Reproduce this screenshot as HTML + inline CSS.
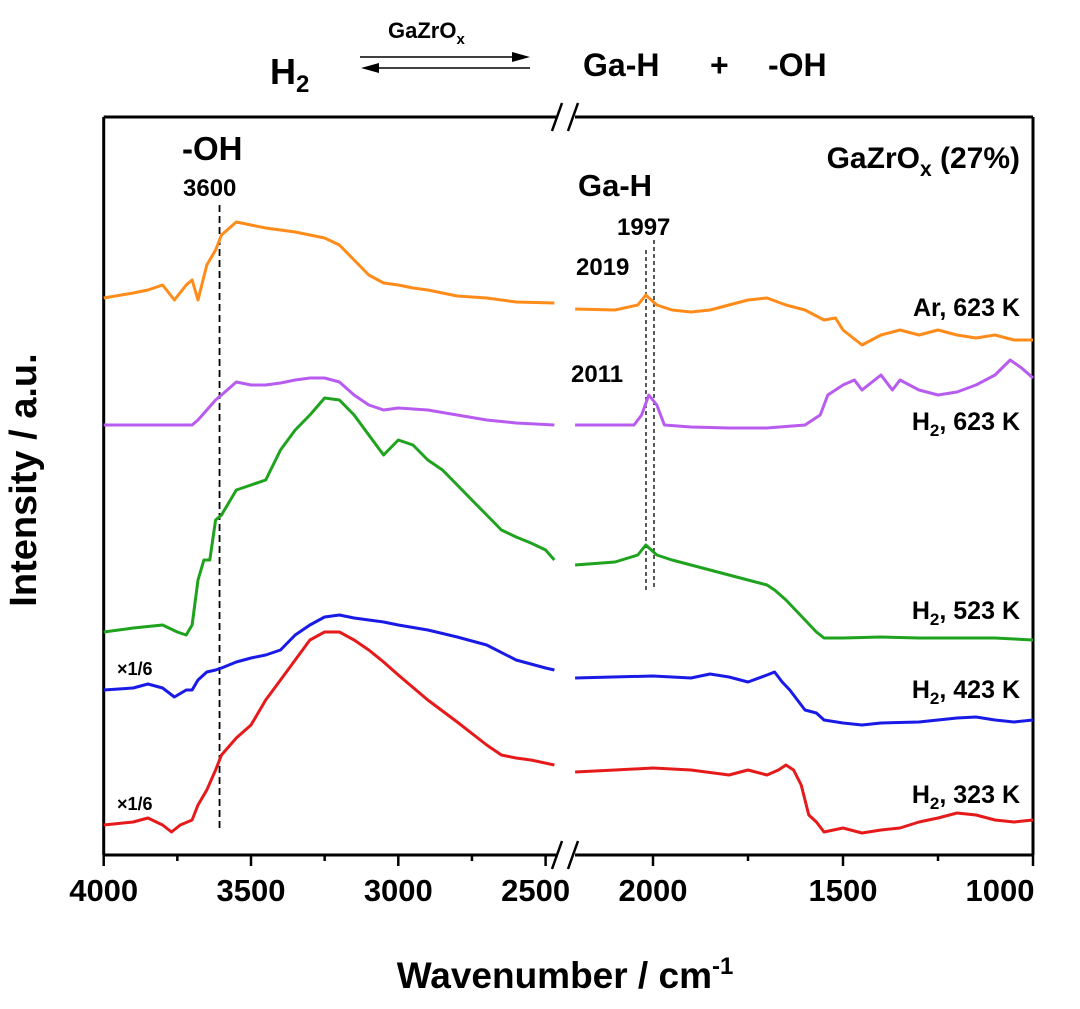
<!DOCTYPE html>
<html><head><meta charset="utf-8">
<style>
body{margin:0;background:#fff;}
svg text{font-family:"Liberation Sans",sans-serif;font-weight:bold;fill:#000;}
</style></head>
<body>
<svg id="chart" width="1080" height="1004" viewBox="0 0 1080 1004" xmlns="http://www.w3.org/2000/svg">
<g>
<text x="270" y="84" font-size="36">H<tspan font-size="24" dy="8">2</tspan></text>
<text x="388" y="38" font-size="22">GaZrO<tspan font-size="15" dy="6">x</tspan></text>
<line x1="360" y1="57" x2="520" y2="57" stroke="#000" stroke-width="1.5"/>
<polygon points="530,57 512,52 512,62" fill="#000"/>
<line x1="372" y1="68" x2="530" y2="68" stroke="#000" stroke-width="1.5"/>
<polygon points="361,68 379,63 379,73" fill="#000"/>
<text x="583" y="76" font-size="32">Ga-H</text>
<text x="710" y="76" font-size="32">+</text>
<text x="768" y="76" font-size="32">-OH</text>
</g>
<g id="frame"></g>
<g id="series"></g>
<g>
<text x="182" y="160" font-size="33">-OH</text>
<text x="183" y="196" font-size="24">3600</text>
<text x="578" y="196" font-size="31">Ga-H</text>
<text x="617" y="235" font-size="24">1997</text>
<text x="576" y="275" font-size="24">2019</text>
<text x="571" y="382" font-size="24">2011</text>
<text x="1020" y="168" font-size="30" text-anchor="end">GaZrO<tspan font-size="21" dy="8">x</tspan><tspan dy="-8"> (27%)</tspan></text>
<text x="1020" y="316" font-size="25" text-anchor="end">Ar, 623 K</text>
<text x="1020" y="430" font-size="25" text-anchor="end">H<tspan font-size="17" dy="6">2</tspan><tspan dy="-6">, 623 K</tspan></text>
<text x="1020" y="619" font-size="25" text-anchor="end">H<tspan font-size="17" dy="6">2</tspan><tspan dy="-6">, 523 K</tspan></text>
<text x="1020" y="698" font-size="25" text-anchor="end">H<tspan font-size="17" dy="6">2</tspan><tspan dy="-6">, 423 K</tspan></text>
<text x="1020" y="803" font-size="25" text-anchor="end">H<tspan font-size="17" dy="6">2</tspan><tspan dy="-6">, 323 K</tspan></text>
<text x="117" y="675" font-size="18">×1/6</text>
<text x="117" y="810" font-size="18">×1/6</text>
<text x="36" y="480" font-size="38" text-anchor="middle" transform="rotate(-90 36 480)">Intensity / a.u.</text>
<text x="565" y="988" font-size="37" text-anchor="middle">Wavenumber / cm<tspan font-size="24" dy="-14">-1</tspan></text>
</g>
</svg>
<script>
// data (intensity in arbitrary units)
const ticksLeft=[4000,3500,3000,2500];
const ticksRight=[2000,1500,1000];
const arL_x=[4000,3900,3850,3800,3760,3720,3700,3680,3650,3620,3600,3550,3500,3450,3400,3350,3300,3250,3200,3150,3100,3050,3000,2950,2900,2850,2800,2700,2600,2470];
const arL_y=[557,562,565,570,555,570,575,555,590,605,620,633,630,627,625,623,620,617,610,595,580,572,570,567,565,562,559,557,553,552];
const arR_x=[2205,2100,2040,2019,1990,1950,1900,1850,1800,1750,1700,1650,1600,1550,1520,1500,1450,1400,1350,1300,1250,1200,1150,1100,1050,1000];
const arR_y=[546,545,550,560,550,545,543,545,550,555,557,550,545,535,537,525,510,520,525,520,525,520,517,520,515,515];
const h623L_x=[4000,3700,3680,3650,3620,3600,3550,3500,3450,3400,3350,3300,3250,3200,3150,3100,3050,3000,2900,2800,2700,2600,2470];
const h623L_y=[430,430,435,445,455,460,473,470,470,472,475,477,477,473,460,450,445,447,445,440,435,432,430];
const h623R_x=[2205,2050,2030,2011,1990,1970,1900,1800,1700,1600,1560,1540,1500,1470,1450,1400,1370,1350,1300,1250,1200,1150,1100,1060,1030,1000];
const h623R_y=[430,430,440,460,450,430,428,427,427,430,440,460,470,475,465,480,465,475,465,460,463,470,480,495,487,477];
const h523L_x=[4000,3900,3800,3750,3720,3700,3680,3660,3640,3620,3600,3550,3500,3450,3400,3350,3300,3250,3200,3150,3100,3050,3000,2950,2900,2850,2800,2750,2700,2650,2600,2550,2500,2470];
const h523L_y=[223,227,230,223,220,230,275,295,295,335,340,365,370,375,405,425,440,457,455,440,420,400,415,410,395,385,370,355,340,325,318,312,305,295];
const h523R_x=[2205,2100,2040,2019,1990,1950,1900,1850,1800,1750,1700,1680,1650,1620,1600,1570,1550,1500,1400,1300,1200,1100,1000];
const h523R_y=[290,293,300,310,300,295,290,285,280,275,270,265,255,243,235,223,217,217,218,217,217,217,215];
const h423L_x=[4000,3900,3850,3800,3760,3720,3700,3680,3650,3620,3600,3550,3500,3450,3400,3350,3300,3250,3200,3150,3100,3050,3000,2900,2800,2700,2600,2500,2470];
const h423L_y=[165,167,171,167,158,165,165,175,183,185,187,193,197,200,205,220,230,238,240,237,235,233,230,225,218,210,195,187,185];
const h423R_x=[2205,2000,1900,1850,1800,1750,1700,1680,1660,1640,1620,1600,1570,1550,1500,1450,1400,1300,1250,1200,1150,1100,1050,1000];
const h423R_y=[177,179,177,181,178,173,180,183,173,165,155,145,142,135,132,130,132,133,135,137,138,135,133,135];
const h323L_x=[4000,3900,3850,3800,3770,3740,3700,3680,3650,3620,3600,3550,3500,3450,3400,3350,3300,3250,3200,3150,3100,3050,3000,2900,2800,2700,2650,2600,2550,2470];
const h323L_y=[30,33,37,30,23,30,35,50,65,85,100,117,130,155,175,195,215,223,223,215,205,193,180,155,133,110,100,97,95,90];
const h323R_x=[2205,2100,2000,1900,1800,1750,1700,1670,1650,1630,1610,1590,1570,1550,1500,1450,1400,1350,1300,1250,1200,1150,1100,1050,1000];
const h323R_y=[83,85,87,85,80,85,80,85,90,85,70,40,33,23,27,22,25,27,33,37,42,40,35,33,35];

const svg=document.getElementById('chart');
const NS='http://www.w3.org/2000/svg';
const X0=103.7,XL=557,XR=575,X1=1033,Y0=117,Yb=855;
function xL(v){return X0+(4000-v)*0.2946;}
function xR(v){return 653+(2000-v)*0.38;}
function yS(v){return Yb-v;}
function mk(tag,attrs,parent){const e=document.createElementNS(NS,tag);for(const k in attrs)e.setAttribute(k,attrs[k]);parent.appendChild(e);return e;}
const frame=document.getElementById('frame');
const st={stroke:'#000','stroke-width':3,fill:'none'};
let e;
e=mk('line',Object.assign({x1:X0,y1:Y0,x2:X0,y2:Yb},st),frame);


e=mk('line',Object.assign({x1:X1,y1:Y0,x2:X1,y2:Yb},st),frame);


e=mk('path',Object.assign({d:`M${X0} ${Yb}H${XL}M${XR} ${Yb}H${X1}M${X0} ${Y0}H${XL}M${XR} ${Y0}H${X1}`},st),frame);


[Y0,Yb].forEach(y=>{
 e=mk('path',{d:`M${XL-5} ${y+14}L${XL+5} ${y-14}M${XR-7} ${y+14}L${XR+3} ${y-14}`,stroke:'#000','stroke-width':2.5,fill:'none'},frame);
 
 
});
const minorL=[3750,3250,2750], minorR=[1750,1250];
ticksLeft.forEach(v=>{const x=xL(v);
 e=mk('line',{x1:x,y1:Yb,x2:x,y2:Yb+11,stroke:'#000','stroke-width':2.5},frame);
 
 
 e=mk('text',{x:v===2500?x-10:x,y:Yb+46,'font-size':31,'text-anchor':'middle'},frame);e.textContent=v;
 
 });
ticksRight.forEach(v=>{const x=xR(v);
 e=mk('line',{x1:x,y1:Yb,x2:x,y2:Yb+11,stroke:'#000','stroke-width':2.5},frame);
 
 
 e=mk('text',{x:v===1000?x-33:x,y:Yb+46,'font-size':31,'text-anchor':'middle'},frame);e.textContent=v;
 
 });
minorL.forEach(v=>{e=mk('line',{x1:xL(v),y1:Yb,x2:xL(v),y2:Yb+6,stroke:'#000','stroke-width':2.5},frame);
 
 });
minorR.forEach(v=>{e=mk('line',{x1:xR(v),y1:Yb,x2:xR(v),y2:Yb+6,stroke:'#000','stroke-width':2.5},frame);
 
 });
// reference lines
e=mk('line',{x1:xL(3600)-2,y1:205,x2:xL(3600)-2,y2:830,stroke:'#000','stroke-width':1.8,'stroke-dasharray':'7,4'},frame);


e=mk('line',{x1:646,y1:250,x2:646,y2:590,stroke:'#000','stroke-width':1.3,'stroke-dasharray':'4,3'},frame);


e=mk('line',{x1:654,y1:240,x2:654,y2:590,stroke:'#000','stroke-width':1.3,'stroke-dasharray':'4,3'},frame);


const sg=document.getElementById('series');
function line(xs,ys,fx,color,name){
 const d=xs.map((v,i)=>(i?'L':'M')+fx(v).toFixed(1)+' '+yS(ys[i]).toFixed(1)).join('');
 const p=mk('path',{d:d,stroke:color,'stroke-width':3,fill:'none','stroke-linejoin':'round'},sg);
 
 
}
line(arL_x,arL_y,xL,'#ff8c1a','series-ar-623-left');
line(arR_x,arR_y,xR,'#ff8c1a','series-ar-623-right');
line(h623L_x,h623L_y,xL,'#b85cf0','series-h2-623-left');
line(h623R_x,h623R_y,xR,'#b85cf0','series-h2-623-right');
line(h523L_x,h523L_y,xL,'#1fa31f','series-h2-523-left');
line(h523R_x,h523R_y,xR,'#1fa31f','series-h2-523-right');
line(h423L_x,h423L_y,xL,'#1a1ae6','series-h2-423-left');
line(h423R_x,h423R_y,xR,'#1a1ae6','series-h2-423-right');
line(h323L_x,h323L_y,xL,'#e61a1a','series-h2-323-left');
line(h323R_x,h323R_y,xR,'#e61a1a','series-h2-323-right');
</script>
</body></html>
